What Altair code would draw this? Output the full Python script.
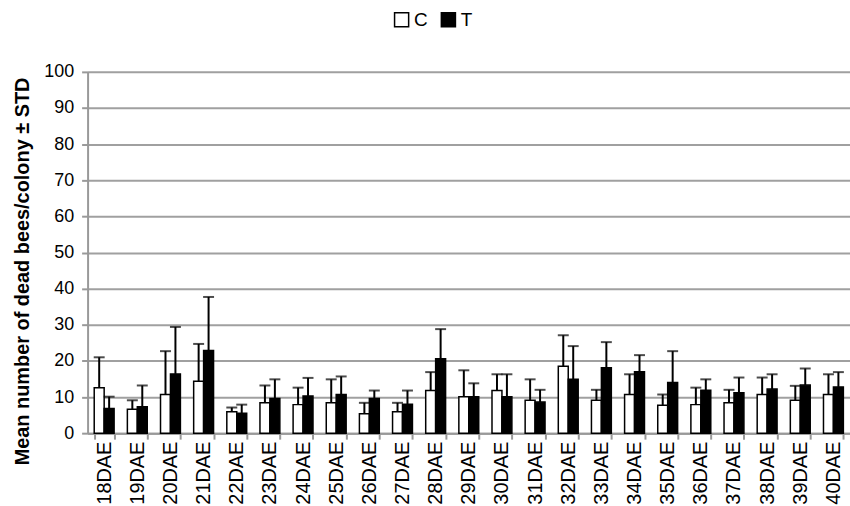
import altair as alt
import pandas as pd

days = [f"{d}DAE" for d in range(18, 41)]
c_mean = [12.6, 6.6, 10.7, 14.4, 5.9, 8.4, 7.9, 8.4, 5.4, 5.9, 11.8, 10.1,
          11.8, 9.1, 18.5, 9.1, 10.7, 7.7, 7.9, 8.4, 10.7, 9.1, 10.7]
c_sd = [8.4, 2.5, 12.0, 10.3, 1.2, 4.8, 4.7, 6.5, 3.0, 2.5, 5.1, 7.3,
        4.5, 5.8, 8.6, 2.9, 5.6, 3.0, 4.7, 3.6, 4.7, 4.0, 5.6]
t_mean = [6.8, 7.3, 16.4, 22.9, 5.5, 9.6, 10.3, 10.7, 9.6, 8.0, 20.6, 10.1,
          10.1, 8.6, 14.9, 18.1, 17.0, 14.0, 11.9, 11.2, 12.2, 13.3, 12.8]
t_sd = [3.3, 5.9, 13.0, 14.8, 2.4, 5.3, 5.0, 5.0, 2.2, 3.8, 8.2, 3.7,
        6.2, 3.4, 9.2, 7.1, 4.6, 8.7, 3.0, 4.2, 4.1, 4.6, 4.1]
groups = ["C", "T"]
y_ticks = list(range(0, 101, 10))

rows = []
for i, d in enumerate(days):
    rows.append({"day": d, "group": "C", "mean": c_mean[i], "upper": c_mean[i] + c_sd[i]})
    rows.append({"day": d, "group": "T", "mean": t_mean[i], "upper": t_mean[i] + t_sd[i]})
df = pd.DataFrame(rows)

FONT = "Liberation Sans"

x = alt.X("day:N", sort=days, title=None,
          scale=alt.Scale(paddingInner=0.4, paddingOuter=0.2),
          axis=alt.Axis(labelAngle=-90, labelFontSize=20, labelFont=FONT, labelColor="#000",
                        labelPadding=2, tickBand="extent", tickColor="#999", tickSize=6,
                        tickWidth=2, domainColor="#999", domainWidth=2, grid=False))
xo = alt.XOffset("group:N", sort=groups, scale=alt.Scale(paddingInner=0, paddingOuter=0))
yscale = alt.Scale(domain=[0, 100], nice=False)
yaxis = alt.Axis(values=y_ticks, tickCount=20, labelFontSize=18, labelFont=FONT,
                 labelColor="#000", labelPadding=8, labelOverlap=False,
                 tickColor="#999", tickSize=6,
                 tickWidth=2, domainColor="#999", domainWidth=2,
                 gridColor="#a0a0a0", gridWidth=2,
                 titleFont=FONT, titleFontSize=20, titleFontWeight="bold",
                 titleColor="#000", titleX=-59, titleY=200, titleAlign="center",
                 titleBaseline="alphabetic", titleAngle=270)
TITLE = "Mean number of dead bees/colony \u00b1 STD"
y = alt.Y("mean:Q", title=TITLE, scale=yscale, axis=yaxis)

bars = alt.Chart(df).mark_bar(stroke="black", strokeWidth=1.5).encode(
    x=x, xOffset=xo, y=y,
    color=alt.Color("group:N", sort=groups,
                    scale=alt.Scale(domain=groups, range=["white", "black"]),
                    legend=alt.Legend(title=None, orient="none", legendX=306, legendY=-62,
                                      direction="horizontal", symbolType="square",
                                      symbolSize=200, symbolStrokeColor="black",
                                      symbolStrokeWidth=1.5, labelFont=FONT, labelFontSize=19,
                                      labelColor="#000", columnPadding=10, labelOffset=3))
)

rules = alt.Chart(df).mark_rule(color="black", strokeWidth=2).encode(
    x=x, xOffset=xo, y=y, y2="upper:Q"
)
caps = alt.Chart(df).mark_tick(color="black", thickness=2, size=11).encode(
    x=x, xOffset=xo, y=alt.Y("upper:Q", title=TITLE, scale=yscale, axis=yaxis)
)

chart = alt.layer(bars, rules, caps).properties(
    width=766, height=363,
    autosize=alt.AutoSizeParams(type="none"),
    padding={"left": 88, "top": 71, "right": 0, "bottom": 80},
).configure_view(stroke=None).configure(background="white")

chart.save("out.html", embed_options={"renderer": "svg", "actions": False})
